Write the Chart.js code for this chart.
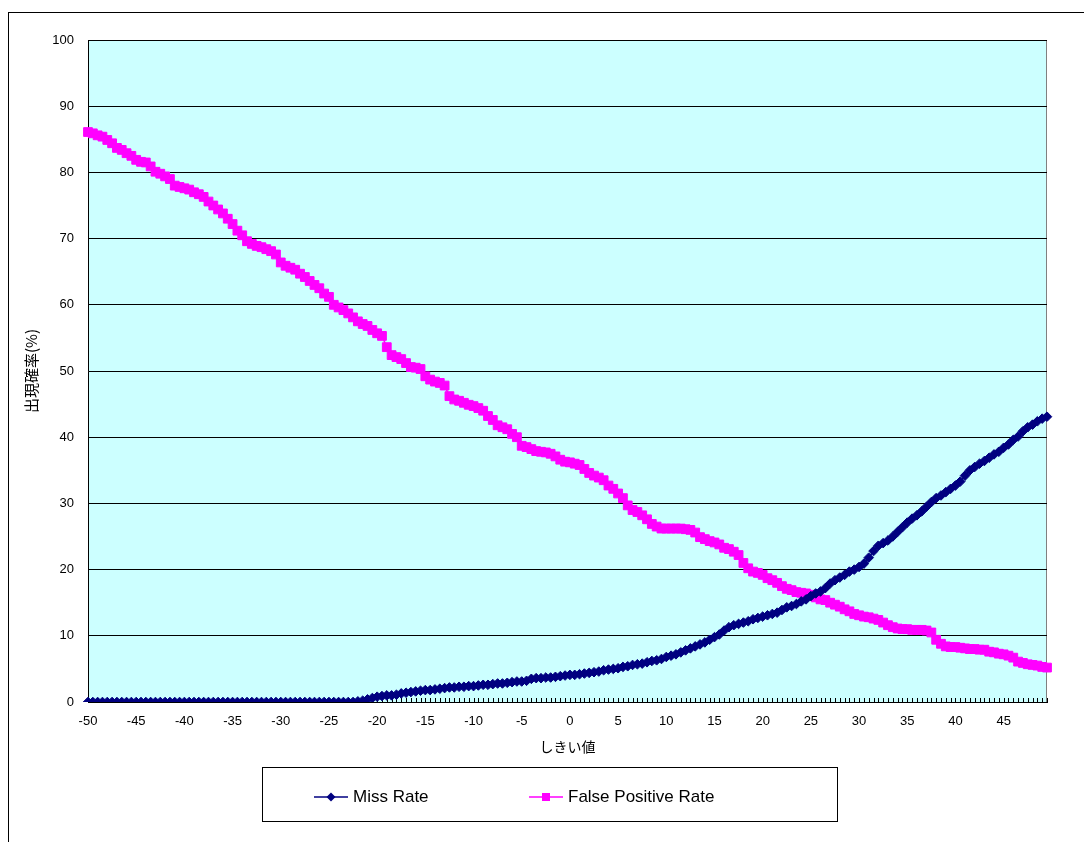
<!DOCTYPE html>
<html>
<head>
<meta charset="utf-8">
<script src="https://cdn.jsdelivr.net/npm/chart.js@4/dist/chart.umd.min.js"></script>
<style>
  html, body { margin: 0; padding: 0; background: #fff; }
  #wrap { position: relative; width: 1084px; height: 842px; overflow: hidden; }
  #frame { position: absolute; left: 8px; top: 12px; width: 1200px; height: 900px;
           border-left: 1px solid #000; border-top: 1px solid #000; }
  #c { position: absolute; left: 0; top: 0; }
  #legend { position: absolute; left: 262px; top: 767px; width: 576px; height: 55px;
            box-sizing: border-box; border: 1px solid #000; background: #fff;
            font: 17px "Liberation Sans", Arial, sans-serif; color: #000; }
  #legend .item { position: absolute; top: 2px; height: 100%; display: flex; align-items: center; }
  #legend canvas { margin-right: 5px; }
</style>
</head>
<body>
<div id="wrap">
  <div id="frame"></div>
  <canvas id="c" width="1084" height="842"></canvas>
  <div id="legend"></div>
</div>
<script>
// threshold categories (-50 .. 49.5, step 0.5)
const thresholds = [];
for (let i = 0; i < 200; i++) thresholds.push(-50 + i * 0.5);

const xTickLabels = [-50, -45, -40, -35, -30, -25, -20, -15, -10, -5, 0, 5, 10, 15, 20, 25, 30, 35, 40, 45];

const missRate = [
  0, 0, 0, 0, 0, 0, 0, 0, 0, 0,
  0, 0, 0, 0, 0, 0, 0, 0, 0, 0,
  0, 0, 0, 0, 0, 0, 0, 0, 0, 0,
  0, 0, 0, 0, 0, 0, 0, 0, 0, 0,
  0, 0, 0, 0, 0, 0, 0, 0, 0, 0,
  0, 0, 0, 0, 0, 0,
  0.1, 0.2, 0.4, 0.6, 0.8, 0.9, 1.0, 1.0, 1.1, 1.3,
  1.4, 1.5, 1.6, 1.7, 1.8, 1.8, 1.9, 2.0, 2.1, 2.2,
  2.2, 2.3, 2.3, 2.4, 2.4, 2.5, 2.6, 2.6, 2.7, 2.8,
  2.8, 2.9, 3.0, 3.1, 3.1, 3.2, 3.5, 3.6, 3.6, 3.7,
  3.7, 3.8, 3.9, 4.0, 4.1, 4.1, 4.2, 4.3, 4.4, 4.5,
  4.6, 4.8, 4.9, 5.0, 5.1, 5.3, 5.4, 5.6, 5.7, 5.8,
  6.0, 6.2, 6.3, 6.5, 6.8, 7.0, 7.2, 7.5, 7.8, 8.1,
  8.4, 8.7, 9.0, 9.4, 9.8, 10.2, 10.8, 11.3, 11.6, 11.8,
  12.0, 12.2, 12.5, 12.7, 12.9, 13.1, 13.3, 13.5, 13.9, 14.3,
  14.5, 14.8, 15.2, 15.5, 16.0, 16.4, 16.7, 17.2, 17.9, 18.4,
  18.8, 19.2, 19.7, 20.0, 20.4, 20.9, 21.8, 22.8, 23.6, 24.0,
  24.4, 25.0, 25.7, 26.4, 27.1, 27.7, 28.2, 28.8, 29.5, 30.2,
  30.8, 31.2, 31.7, 32.2, 32.7, 33.3, 34.2, 35.0, 35.5, 36.0,
  36.4, 36.9, 37.4, 37.8, 38.4, 38.9, 39.6, 40.1, 40.9, 41.5,
  41.9, 42.4, 42.8, 43.1
];

const falsePositiveRate = [
  86.1, 85.9, 85.6, 85.4, 84.9, 84.4, 83.7, 83.4, 82.9, 82.5,
  81.9, 81.6, 81.5, 80.9, 80.1, 79.8, 79.4, 79.0, 78.0, 77.8,
  77.6, 77.4, 77.0, 76.7, 76.3, 75.6, 75.0, 74.4, 73.8, 73.0,
  72.2, 71.2, 70.5, 69.6, 69.2, 68.9, 68.7, 68.4, 68.1, 67.6,
  66.4, 65.9, 65.6, 65.3, 64.7, 64.2, 63.6, 63.0, 62.5, 61.7,
  61.2, 60.0, 59.6, 59.2, 58.7, 58.1, 57.5, 57.1, 56.8, 56.2,
  55.7, 55.3, 53.6, 52.4, 52.1, 51.8, 51.2, 50.6, 50.5, 50.3,
  49.2, 48.7, 48.4, 48.2, 47.8, 46.2, 45.7, 45.5, 45.2, 44.9,
  44.7, 44.4, 44.0, 43.2, 42.6, 41.8, 41.5, 41.2, 40.5, 40.0,
  38.7, 38.5, 38.2, 37.9, 37.8, 37.7, 37.5, 37.1, 36.6, 36.3,
  36.2, 36.0, 35.8, 35.2, 34.6, 34.2, 33.9, 33.5, 32.7, 32.2,
  31.5, 30.8, 29.7, 29.0, 28.7, 28.2, 27.6, 26.9, 26.5, 26.2,
  26.2, 26.2, 26.2, 26.2, 26.1, 26.0, 25.6, 24.9, 24.6, 24.3,
  24.1, 23.8, 23.3, 23.1, 22.7, 22.2, 21.0, 20.2, 19.7, 19.5,
  19.2, 18.7, 18.4, 18.0, 17.5, 17.1, 16.9, 16.6, 16.5, 16.4,
  16.2, 15.8, 15.5, 15.4, 15.0, 14.7, 14.4, 14.0, 13.7, 13.3,
  13.1, 12.9, 12.8, 12.6, 12.4, 12.0, 11.6, 11.3, 11.1, 11.0,
  11.0, 10.9, 10.9, 10.9, 10.8, 10.5, 9.4, 8.8, 8.4, 8.3,
  8.3, 8.2, 8.1, 8.0, 8.0, 7.9, 7.9, 7.6, 7.5, 7.3,
  7.2, 7.0, 6.7, 6.1, 5.9, 5.7, 5.6, 5.5, 5.3, 5.2
];

const FONT = '"Liberation Sans", "Noto Sans CJK JP", sans-serif';
const JP_FONT = '"Noto Sans CJK JP", "Liberation Sans", sans-serif';

// plot background, border and inward category ticks
const plotDecor = {
  id: 'plotDecor',
  beforeDraw(chart) {
    const { ctx, chartArea: a } = chart;
    ctx.save();
    ctx.fillStyle = '#CCFFFF';
    ctx.fillRect(a.left, a.top, a.right - a.left, a.bottom - a.top);
    ctx.strokeStyle = '#808080';
    ctx.lineWidth = 1;
    ctx.strokeRect(Math.round(a.left) + 0.5, Math.round(a.top) + 0.5,
                   Math.round(a.right - a.left) - 1, Math.round(a.bottom - a.top));
    ctx.restore();
  },
  beforeDatasetsDraw(chart) {
    const { ctx, chartArea: a } = chart;
    const xs = chart.scales.x;
    ctx.save();
    ctx.strokeStyle = '#000';
    ctx.lineWidth = 1;
    ctx.beginPath();
    for (let i = 0; i < xs.ticks.length; i++) {
      const px = Math.round(xs.getPixelForTick(i)) + 0.5;
      ctx.moveTo(px, a.bottom);
      ctx.lineTo(px, a.bottom - 4);
    }
    ctx.stroke();
    ctx.restore();
  }
};

const chart = new Chart(document.getElementById('c').getContext('2d'), {
  type: 'line',
  data: {
    labels: thresholds,
    datasets: [{
      label: 'Miss Rate',
      data: missRate,
      borderColor: '#000080',
      backgroundColor: '#000080',
      borderWidth: 1.5,
      pointStyle: 'rectRot',
      pointRadius: 4.8,
      pointBorderWidth: 1,
      tension: 0
    }, {
      label: 'False Positive Rate',
      data: falsePositiveRate,
      borderColor: '#FF00FF',
      backgroundColor: '#FF00FF',
      borderWidth: 1.5,
      pointStyle: 'rect',
      pointRadius: 6.2,
      pointBorderWidth: 1,
      tension: 0
    }]
  },
  options: {
    responsive: false,
    animation: false,
    devicePixelRatio: 1,
    layout: { padding: { left: 12, top: 40, right: 37, bottom: 82 } },
    plugins: { legend: { display: false }, tooltip: { enabled: false } },
    scales: {
      x: {
        type: 'category',
        offset: false,
        grid: { display: true, drawOnChartArea: false, drawTicks: false, color: '#000' },
        border: { color: '#000', width: 1 },
        ticks: {
          autoSkip: false, maxRotation: 0, minRotation: 0, padding: 12,
          color: '#000', font: { size: 13, family: FONT },
          callback: (v, i) => xTickLabels.includes(thresholds[i]) ? String(thresholds[i]) : ''
        },
        title: { display: true, text: 'しきい値', color: '#000',
                 font: { size: 14, family: JP_FONT }, padding: { top: 4, bottom: 5 } },
        afterFit(s) { s.height = 58; }
      },
      y: {
        min: 0, max: 100,
        grid: { color: '#000', drawTicks: false },
        border: { color: '#000', width: 1 },
        ticks: { stepSize: 10, padding: 14, color: '#000', font: { size: 13, family: FONT } },
        title: { display: true, text: '出現確率(%)', color: '#000',
                 font: { size: 15, family: JP_FONT }, padding: { top: 10, bottom: 0 } },
        afterFit(s) { s.width = 76; }
      }
    }
  },
  plugins: [plotDecor]
});

// html legend (line + marker)
const legendPos = [51, 266];
const legendEl = document.getElementById('legend');
chart.data.datasets.forEach((ds, i) => {
  const item = document.createElement('div');
  item.className = 'item';
  item.style.left = legendPos[i] + 'px';
  const sw = document.createElement('canvas');
  sw.width = 34; sw.height = 12;
  const g = sw.getContext('2d');
  g.strokeStyle = ds.borderColor; g.lineWidth = 1.5;
  g.beginPath(); g.moveTo(0, 6); g.lineTo(34, 6); g.stroke();
  g.fillStyle = ds.backgroundColor;
  g.beginPath();
  if (ds.pointStyle === 'rectRot') {
    g.moveTo(17, 1.5); g.lineTo(21.5, 6); g.lineTo(17, 10.5); g.lineTo(12.5, 6);
  } else {
    g.rect(13, 2, 8, 8);
  }
  g.fill();
  const txt = document.createElement('span');
  txt.textContent = ds.label;
  item.appendChild(sw);
  item.appendChild(txt);
  legendEl.appendChild(item);
});
</script>
</body>
</html>
